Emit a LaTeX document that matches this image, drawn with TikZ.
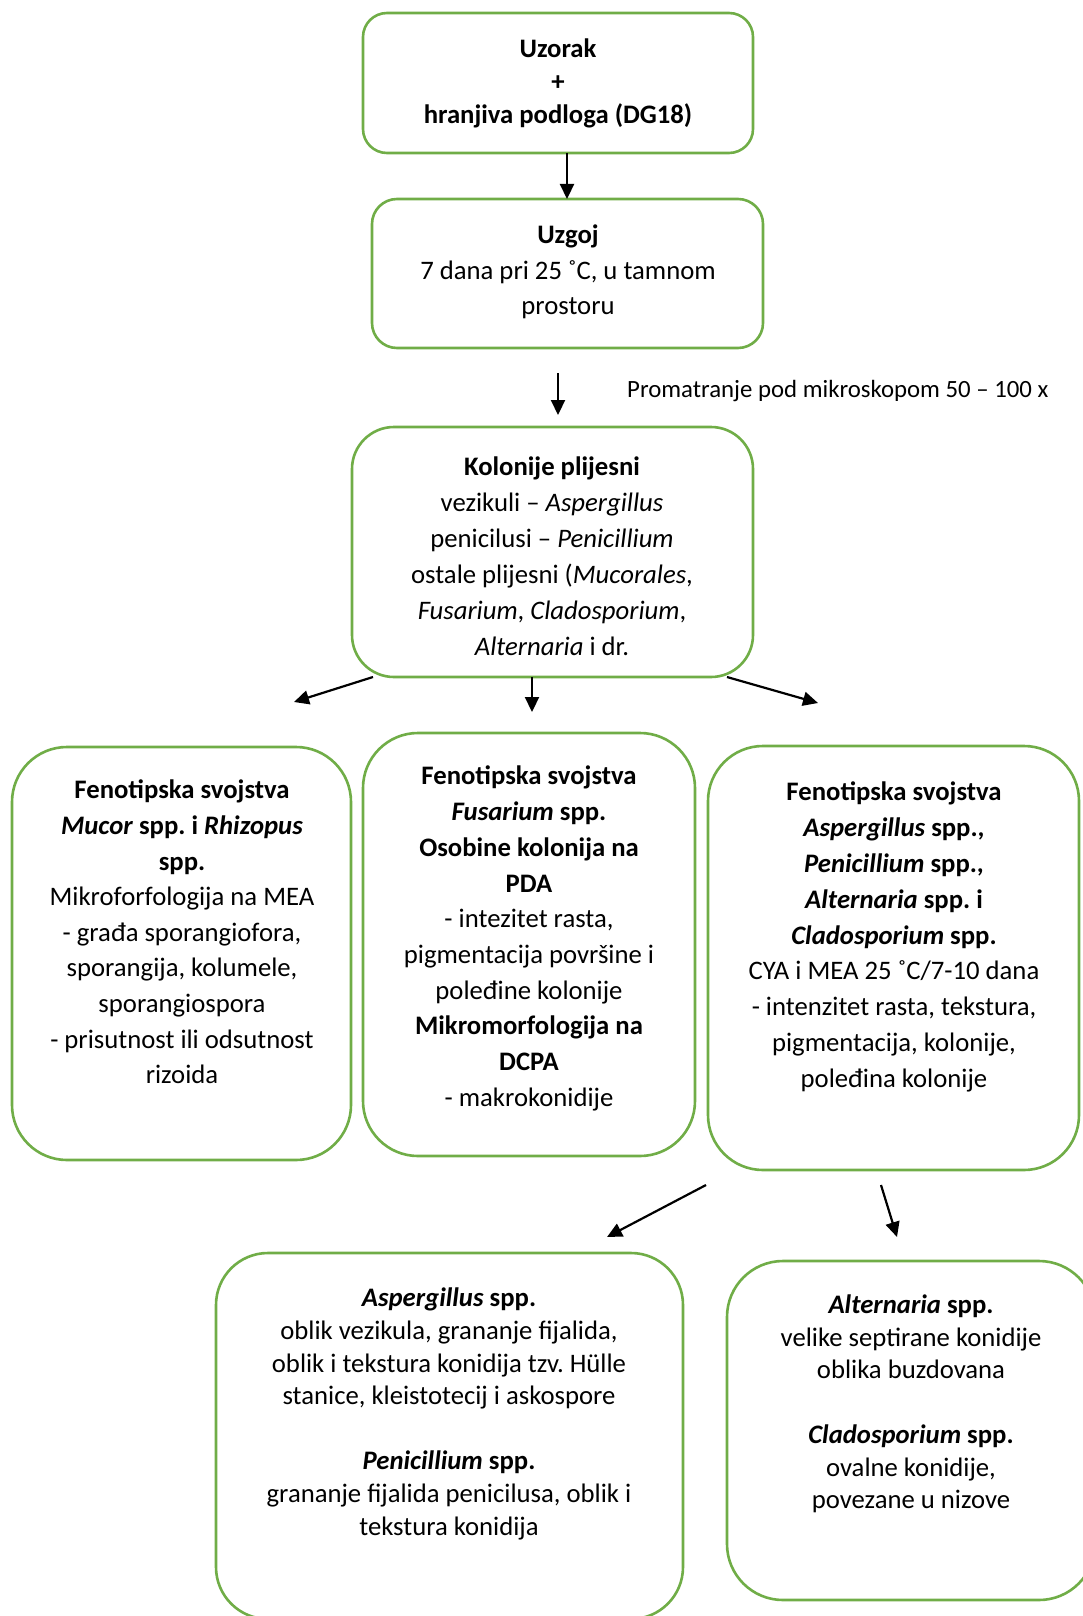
\documentclass[tikz,border=0pt]{standalone}
\usepackage{fontspec}
\setmainfont{Carlito}
\usetikzlibrary{arrows.meta}
\definecolor{boxgreen}{RGB}{112,173,71}
\newcommand{\fs}[1]{\fontsize{26.7}{#1}\selectfont\frenchspacing}
\newcommand{\st}{\rule{0pt}{18pt}}
\tikzset{
  gbox/.style={draw=boxgreen, line width=2.6pt, fill=none, inner sep=0pt, outer sep=0pt},
  txt/.style={align=center, inner sep=0pt, anchor=north, text=black},
  arr/.style={draw=black, line width=2.2pt, -{Triangle[length=15pt,width=14pt]}}
}
\begin{document}
\begin{tikzpicture}[x=1pt,y=-1pt]
\useasboundingbox (0,0) rectangle (1083,1616);
\clip (0,0) rectangle (1083,1616);
% boxes
\node[gbox, rounded corners=24pt, minimum width=390pt, minimum height=140pt] (b1) at (558,83) {};
\node[gbox, rounded corners=25pt, minimum width=391pt, minimum height=149pt] (b2) at (567.5,273.5) {};
\node[gbox, rounded corners=42pt, minimum width=401pt, minimum height=250pt] (b3) at (552.5,552) {};
\node[gbox, rounded corners=55pt, minimum width=339pt, minimum height=413pt] (b4) at (181.5,953.5) {};
\node[gbox, rounded corners=55pt, minimum width=332pt, minimum height=423pt] (b5) at (529,944.5) {};
\node[gbox, rounded corners=55pt, minimum width=371pt, minimum height=424pt] (b6) at (893.5,958) {};
\node[gbox, rounded corners=52pt, minimum width=467pt, minimum height=366pt] (b7) at (449.5,1436) {};
\node[gbox, rounded corners=56pt, minimum width=368pt, minimum height=339pt] (b8) at (911,1430.5) {};
% texts
\node[txt, font=\fs{33}\bfseries] (t1) at (558,39) {\st Uzorak\\ +\\ hranjiva podloga (DG18)};
\node[txt, font=\fs{35.5}] (t2) at (568,225) {\st\textbf{Uzgoj}\\ 7 dana pri 25 ˚C, u tamnom\\ prostoru};
\node[txt, font=\fs{36}] (t3) at (552,457) {\st\textbf{Kolonije plijesni}\\ vezikuli – \textit{Aspergillus}\\ penicilusi – \textit{Penicillium}\\ ostale plijesni (\textit{Mucorales},\\ \textit{Fusarium}, \textit{Cladosporium},\\ \textit{Alternaria} i dr.};
\node[txt, font=\fs{35.6}] (t4) at (182,780) {\st\textbf{Fenotipska svojstva}\\ \textbf{\textit{Mucor} spp. i \textit{Rhizopus}}\\ \textbf{spp.}\\ Mikroforfologija na MEA\\ - građa sporangiofora,\\ sporangija, kolumele,\\ sporangiospora\\ - prisutnost ili odsutnost\\ rizoida};
\node[txt, font=\fs{35.7}] (t5) at (529,766) {\st\textbf{Fenotipska svojstva}\\ \textbf{\textit{Fusarium} spp.}\\ \textbf{Osobine kolonija na}\\ \textbf{PDA}\\ - intezitet rasta,\\ pigmentacija površine i\\ poleđine kolonije\\ \textbf{Mikromorfologija na}\\ \textbf{DCPA}\\ - makrokonidije};
\node[txt, font=\fs{35.8}] (t6) at (894,782) {\st\textbf{Fenotipska svojstva}\\ \textbf{\textit{Aspergillus} spp.,}\\ \textbf{\textit{Penicillium} spp.,}\\ \textbf{\textit{Alternaria} spp. i}\\ \textbf{\textit{Cladosporium} spp.}\\ CYA i MEA 25 ˚C/7-10 dana\\ - intenzitet rasta, tekstura,\\ pigmentacija, kolonije,\\ poleđina kolonije};
\node[txt, font=\fs{32.6}] (t7) at (449,1288) {\st\textbf{\textit{Aspergillus} spp.}\\ oblik vezikula, grananje fijalida,\\ oblik i tekstura konidija tzv. Hülle\\ stanice, kleistotecij i askospore\\[32.6pt] \textbf{\textit{Penicillium} spp.}\\ grananje fijalida penicilusa, oblik i\\ tekstura konidija};
\node[txt, font=\fs{32.5}] (t8) at (911,1295) {\st\textbf{\textit{Alternaria} spp.}\\ velike septirane konidije\\ oblika buzdovana\\[32.5pt] \textbf{\textit{Cladosporium} spp.}\\ ovalne konidije,\\ povezane u nizove};
\node[anchor=base west, inner sep=0pt, font=\fontsize{24.8}{30}\selectfont] (lab) at (627,397) {Promatranje pod mikroskopom 50 – 100 x};
% arrow end points
\coordinate (a1s) at (567,153);
\coordinate (a1e) at (567,199);
\coordinate (a2s) at (558,373);
\coordinate (a2e) at (558,415);
\coordinate (a3s) at (373,677);
\coordinate (a3e) at (294,702);
\coordinate (a4s) at (532,677);
\coordinate (a4e) at (532,712);
\coordinate (a5s) at (727,677);
\coordinate (a5e) at (818,703);
\coordinate (a6s) at (706,1185);
\coordinate (a6e) at (607,1237);
\coordinate (a7s) at (881,1185);
\coordinate (a7e) at (897,1237);
\draw[arr] (a1s) -- (a1e);
\draw[arr] (a2s) -- (a2e);
\draw[arr] (a3s) -- (a3e);
\draw[arr] (a4s) -- (a4e);
\draw[arr] (a5s) -- (a5e);
\draw[arr] (a6s) -- (a6e);
\draw[arr] (a7s) -- (a7e);
\end{tikzpicture}
\end{document}
